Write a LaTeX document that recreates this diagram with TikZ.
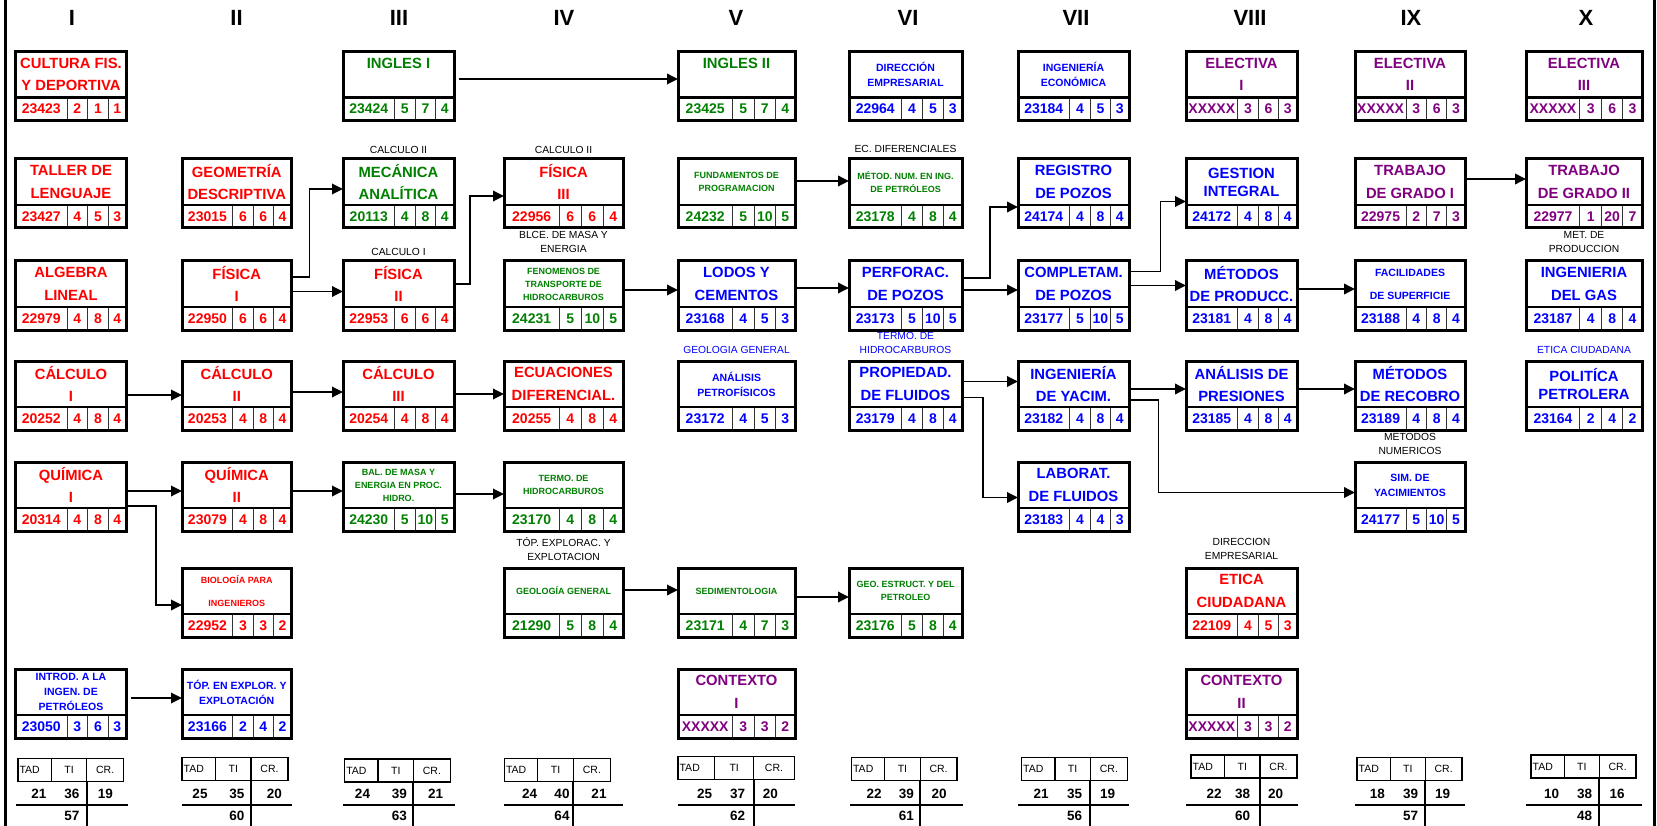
\documentclass[tikz,border=0pt]{standalone}
\usepackage{fontspec}
\setmainfont{Liberation Sans}
\usetikzlibrary{arrows.meta,calc}
\definecolor{cred}{RGB}{255,0,0}
\definecolor{cgreen}{RGB}{0,128,0}
\definecolor{cblue}{RGB}{0,0,255}
\definecolor{cpurple}{RGB}{128,0,128}
\def\splitnums#1/#2/#3/#4\relax{\def\nmA{#1}\def\nmB{#2}\def\nmC{#3}\def\nmD{#4}}
\def\splitxyz#1/#2/#3\relax{\def\pxA{#1}\def\pxB{#2}\def\pxC{#3}}
\tikzset{
  coursebox/.style={fill=white, minimum height=69pt, inner sep=0pt, outer sep=0pt},
  boxline/.style={line width=3pt},
  celldiv/.style={line width=1pt, black!80},
  rowdiv/.style={line width=2.5pt},
  tbig/.style={font=\bfseries\fontsize{14.8}{22.5}\selectfont, align=center, inner sep=0pt},
  tbigt/.style={font=\bfseries\fontsize{14.8}{18}\selectfont, align=center, inner sep=0pt},
  tmid/.style={font=\bfseries\fontsize{10.5}{15}\selectfont, align=center, inner sep=0pt},
  tmidw/.style={font=\bfseries\fontsize{10.5}{23}\selectfont, align=center, inner sep=0pt},
  tsmall/.style={font=\bfseries\fontsize{9}{13}\selectfont, align=center, inner sep=0pt},
  tsmallw/.style={font=\bfseries\fontsize{9}{23}\selectfont, align=center, inner sep=0pt},
  numtxt/.style={font=\bfseries\fontsize{14}{14}\selectfont, inner sep=0pt},
  note/.style={font=\fontsize{10.3}{14}\selectfont, align=center, inner sep=0pt},
  colhdr/.style={font=\bfseries\fontsize{22}{22}\selectfont, inner sep=0pt},
  arr/.style={line width=1.8pt, -{Triangle[length=11pt,width=10.5pt]}},
  hdrcell/.style={draw, line width=1.3pt, minimum height=23pt, inner sep=0pt, outer sep=0pt, font=\fontsize{10.5}{10.5}\selectfont},
  hdrtxt/.style={inner sep=0pt, font=\fontsize{10.5}{10.5}\selectfont},
  sumnum/.style={font=\bfseries\fontsize{13.5}{13.5}\selectfont, inner sep=0pt},
  sumline/.style={line width=2pt},
  frame/.style={line width=3pt}
}
\newcommand\course[8]{%
  \pgfmathsetmacro\cbW{#3-#2}%
  \pgfmathsetmacro\cbA{#2+0.465*\cbW}%
  \pgfmathsetmacro\cbB{#2+0.65*\cbW}%
  \pgfmathsetmacro\cbC{#2+0.835*\cbW}%
  \pgfmathsetmacro\cbM{(#2+#3)/2}%
  \pgfmathsetmacro\cbD{#4+46}%
  \pgfmathsetmacro\cbE{#4+69}%
  \pgfmathsetmacro\cbT{#4+23}%
  \pgfmathsetmacro\cbN{#4+57.5}%
  \pgfmathsetmacro\cbPa{(#2+\cbA)/2}%
  \pgfmathsetmacro\cbPb{(\cbA+\cbB)/2}%
  \pgfmathsetmacro\cbPc{(\cbB+\cbC)/2}%
  \pgfmathsetmacro\cbPd{(\cbC+#3)/2}%
  \splitnums#8\relax
  \node[coursebox, minimum width=\cbW pt, anchor=north west] (#1) at (#2,#4) {};
  \draw[celldiv] (\cbA,\cbD) -- (\cbA,\cbE) (\cbB,\cbD) -- (\cbB,\cbE) (\cbC,\cbD) -- (\cbC,\cbE);
  \draw[rowdiv] (#2,\cbD) -- (#3,\cbD);
  \draw[boxline] (#1.north west) rectangle (#1.south east);
  \node[#6, text=#5] (#1-t) at (\cbM,\cbT) {#7};
  \node[numtxt, text=#5] (#1-a) at (\cbPa,\cbN) {\nmA};
  \node[numtxt, text=#5] (#1-b) at (\cbPb,\cbN) {\nmB};
  \node[numtxt, text=#5] (#1-c) at (\cbPc,\cbN) {\nmC};
  \node[numtxt, text=#5] (#1-d) at (\cbPd,\cbN) {\nmD};
}
\newcommand\summary[8]{%
  \pgfmathsetmacro\smA{0.316*#5}%
  \pgfmathsetmacro\smB{0.335*#5}%
  \pgfmathsetmacro\smC{#5-\smA-\smB}%
  \splitxyz#7\relax
  \splitnums#8\relax
  \node[hdrcell, minimum width=\smA pt, anchor=north west] (#1-h1) at (#4,#6) {};
  \node[hdrtxt, anchor=west] (#1-h1t) at ($(#1-h1.west)+(1.5,0)$) {TAD};
  \node[hdrcell, minimum width=\smB pt, anchor=north west] (#1-h2) at (#1-h1.north east) {TI};
  \node[hdrcell, minimum width=\smC pt, anchor=north west] (#1-h3) at (#1-h2.north east) {CR.};
  \node[sumnum] (#1-v1) at (\pxA,794) {\nmA};
  \node[sumnum] (#1-v2) at (\pxB,794) {\nmB};
  \node[sumnum] (#1-v3) at (\pxC,794) {\nmC};
  \node[sumnum] (#1-v4) at (\pxB,816) {\nmD};
  \draw[sumline] (#2,805) -- (#3,805);
  \draw[sumline] (#1-h3.south west) -- (#1-h3.south west |- 0,826);
}
\begin{document}
\begin{tikzpicture}[x=1pt,y=-1pt]
\fill[white] (0,0) rectangle (1657,826);
\useasboundingbox (0,0) rectangle (1657,826);
% frame
\draw[frame] (5,0) -- (5,826);
\draw[frame] (1654.5,0) -- (1654.5,826);
% column headers
\node[colhdr] (hI) at (72,18) {I};
\node[colhdr] (hII) at (236.6,18) {II};
\node[colhdr] (hIII) at (399,18) {III};
\node[colhdr] (hIV) at (564,18) {IV};
\node[colhdr] (hV) at (736,18) {V};
\node[colhdr] (hVI) at (908,18) {VI};
\node[colhdr] (hVII) at (1076,18) {VII};
\node[colhdr] (hVIII) at (1250,18) {VIII};
\node[colhdr] (hIX) at (1411,18) {IX};
\node[colhdr] (hX) at (1586,18) {X};
% notes
\node[note] (n1) at (398.5,150) {CALCULO II};
\node[note] (n2) at (398.5,252) {CALCULO I};
\node[note] (n3) at (563.5,150) {CALCULO II};
\node[note] (n4) at (563.5,241.5) {BLCE. DE MASA Y\\ENERGIA};
\node[note] (n5) at (905.5,149) {EC. DIFERENCIALES};
\node[note] (n6) at (1584,242) {MET. DE\\PRODUCCION};
\node[note, text=cblue] (n7) at (736.5,350) {GEOLOGIA GENERAL};
\node[note, text=cblue] (n8) at (905.5,343) {TERMO. DE\\HIDROCARBUROS};
\node[note, text=cblue] (n9) at (1584,350) {ETICA CIUDADANA};
\node[note] (n10) at (1410,443.5) {METODOS\\NUMERICOS};
\node[note] (n11) at (563.5,549) {TÓP. EXPLORAC. Y\\EXPLOTACION};
\node[note] (n12) at (1241.5,549) {DIRECCION\\EMPRESARIAL};
% column I
\course{cult}{15.5}{126.5}{51.5}{cred}{tbig}{CULTURA FIS.\\Y DEPORTIVA}{23423/2/1/1}
\course{taller}{15.5}{126.5}{159}{cred}{tbig}{TALLER DE\\LENGUAJE}{23427/4/5/3}
\course{alg}{15.5}{126.5}{261}{cred}{tbig}{ALGEBRA\\LINEAL}{22979/4/8/4}
\course{calc1}{15.5}{126.5}{361}{cred}{tbig}{CÁLCULO\\I}{20252/4/8/4}
\course{quim1}{15.5}{126.5}{462}{cred}{tbig}{QUÍMICA\\I}{20314/4/8/4}
\course{intro}{15.5}{126.5}{669}{cblue}{tmid}{INTROD. A LA\\INGEN. DE\\PETRÓLEOS}{23050/3/6/3}
% column II
\course{geom}{182}{291.5}{159}{cred}{tbig}{GEOMETRÍA\\DESCRIPTIVA}{23015/6/6/4}
\course{fis1}{182}{291.5}{261}{cred}{tbig}{FÍSICA\\I}{22950/6/6/4}
\course{calc2}{182}{291.5}{361}{cred}{tbig}{CÁLCULO\\II}{20253/4/8/4}
\course{quim2}{182}{291.5}{462}{cred}{tbig}{QUÍMICA\\II}{23079/4/8/4}
\course{bio}{182}{291.5}{568}{cred}{tsmallw}{BIOLOGÍA PARA\\INGENIEROS}{22952/3/3/2}
\course{topo}{182}{291.5}{669}{cblue}{tmid}{TÓP. EN EXPLOR. Y\\EXPLOTACIÓN}{23166/2/4/2}
% column III
\course{ing1}{343}{454}{51.5}{cgreen}{tbig}{INGLES I\\\mbox{}}{23424/5/7/4}
\course{mec}{343}{454}{159}{cgreen}{tbig}{MECÁNICA\\ANALÍTICA}{20113/4/8/4}
\course{fis2}{343}{454}{261}{cred}{tbig}{FÍSICA\\II}{22953/6/6/4}
\course{calc3}{343}{454}{361}{cred}{tbig}{CÁLCULO\\III}{20254/4/8/4}
\course{bal}{343}{454}{462}{cgreen}{tsmall}{BAL. DE MASA Y\\ENERGIA EN PROC.\\HIDRO.}{24230/5/10/5}
% column IV
\course{fis3}{504}{623}{159}{cred}{tbig}{FÍSICA\\III}{22956/6/6/4}
\course{fen}{504}{623}{261}{cgreen}{tsmall}{FENOMENOS DE\\TRANSPORTE DE\\HIDROCARBUROS}{24231/5/10/5}
\course{ecu}{504}{623}{361}{cred}{tbig}{ECUACIONES\\DIFERENCIAL.}{20255/4/8/4}
\course{termo}{504}{623}{462}{cgreen}{tsmall}{TERMO. DE\\HIDROCARBUROS}{23170/4/8/4}
\course{geol}{504}{623}{568}{cgreen}{tsmall}{GEOLOGÍA GENERAL}{21290/5/8/4}
% column V
\course{ing2}{678}{795}{51.5}{cgreen}{tbig}{INGLES II\\\mbox{}}{23425/5/7/4}
\course{fund}{678}{795}{159}{cgreen}{tsmall}{FUNDAMENTOS DE\\PROGRAMACION}{24232/5/10/5}
\course{lodos}{678}{795}{261}{cblue}{tbig}{LODOS Y\\CEMENTOS}{23168/4/5/3}
\course{petro}{678}{795}{361}{cblue}{tmid}{ANÁLISIS\\PETROFÍSICOS}{23172/4/5/3}
\course{sedi}{678}{795}{568}{cgreen}{tsmall}{SEDIMENTOLOGIA}{23171/4/7/3}
\course{ctx1}{678}{795}{669}{cpurple}{tbig}{CONTEXTO\\I}{XXXXX/3/3/2}
% column VI
\course{dir}{849}{962}{51.5}{cblue}{tmid}{DIRECCIÓN\\EMPRESARIAL}{22964/4/5/3}
\course{metnum}{849}{962}{159}{cgreen}{tsmall}{MÉTOD. NUM. EN ING.\\DE PETRÓLEOS}{23178/4/8/4}
\course{perf}{849}{962}{261}{cblue}{tbig}{PERFORAC.\\DE POZOS}{23173/5/10/5}
\course{prop}{849}{962}{361}{cblue}{tbig}{PROPIEDAD.\\DE FLUIDOS}{23179/4/8/4}
\course{geoest}{849}{962}{568}{cgreen}{tsmall}{GEO. ESTRUCT. Y DEL\\PETROLEO}{23176/5/8/4}
% column VII
\course{ingeco}{1018}{1129}{51.5}{cblue}{tmid}{INGENIERÍA\\ECONÓMICA}{23184/4/5/3}
\course{reg}{1018}{1129}{159}{cblue}{tbig}{REGISTRO\\DE POZOS}{24174/4/8/4}
\course{compl}{1018}{1129}{261}{cblue}{tbig}{COMPLETAM.\\DE POZOS}{23177/5/10/5}
\course{yac}{1018}{1129}{361}{cblue}{tbig}{INGENIERÍA\\DE YACIM.}{23182/4/8/4}
\course{lab}{1018}{1129}{462}{cblue}{tbig}{LABORAT.\\DE FLUIDOS}{23183/4/4/3}
% column VIII
\course{el1}{1186}{1297}{51.5}{cpurple}{tbig}{ELECTIVA\\I}{XXXXX/3/6/3}
\course{gest}{1186}{1297}{159}{cblue}{tbigt}{GESTION\\INTEGRAL}{24172/4/8/4}
\course{metprod}{1186}{1297}{261}{cblue}{tbig}{MÉTODOS\\DE PRODUCC.}{23181/4/8/4}
\course{pres}{1186}{1297}{361}{cblue}{tbig}{ANÁLISIS DE\\PRESIONES}{23185/4/8/4}
\course{etica}{1186}{1297}{568}{cred}{tbig}{ETICA\\CIUDADANA}{22109/4/5/3}
\course{ctx2}{1186}{1297}{669}{cpurple}{tbig}{CONTEXTO\\II}{XXXXX/3/3/2}
% column IX
\course{el2}{1355}{1465}{51.5}{cpurple}{tbig}{ELECTIVA\\II}{XXXXX/3/6/3}
\course{tg1}{1355}{1465}{159}{cpurple}{tbig}{TRABAJO\\DE GRADO I}{22975/2/7/3}
\course{facil}{1355}{1465}{261}{cblue}{tmidw}{FACILIDADES\\DE SUPERFICIE}{23188/4/8/4}
\course{recob}{1355}{1465}{361}{cblue}{tbig}{MÉTODOS\\DE RECOBRO}{23189/4/8/4}
\course{sim}{1355}{1465}{462}{cblue}{tmid}{SIM. DE\\YACIMIENTOS}{24177/5/10/5}
% column X
\course{el3}{1526}{1642}{51.5}{cpurple}{tbig}{ELECTIVA\\III}{XXXXX/3/6/3}
\course{tg2}{1526}{1642}{159}{cpurple}{tbig}{TRABAJO\\DE GRADO II}{22977/1/20/7}
\course{gas}{1526}{1642}{261}{cblue}{tbig}{INGENIERIA\\DEL GAS}{23187/4/8/4}
\course{pol}{1526}{1642}{361}{cblue}{tbigt}{POLITÍCA\\PETROLERA}{23164/2/4/2}
% connectors
\draw[arr] ($(ing1.east |- 0,79)+(5,0)$) -- (ing2.west |- 0,79);
\draw[arr] (fis1.east |- 0,277) -- ++(18,0) |- (mec.west |- 0,189);
\draw[arr] (fis1.east |- 0,291.5) -- (fis2.west |- 0,291.5);
\draw[arr] (fis2.east |- 0,284) -- ++(16,0) |- (fis3.west |- 0,196);
\draw[arr] (calc1.east |- 0,395) -- (calc2.west |- 0,395);
\draw[arr] (calc2.east |- 0,392) -- (calc3.west |- 0,392);
\draw[arr] (calc3.east |- 0,394) -- (ecu.west |- 0,394);
\draw[arr] (quim1.east |- 0,491) -- (quim2.west |- 0,491);
\draw[arr] (quim2.east |- 0,491) -- (bal.west |- 0,491);
\draw[arr] (bal.east |- 0,494) -- (termo.west |- 0,494);
\draw[arr] (quim1.east |- 0,506) -- ++(29.5,0) |- (bio.west |- 0,605);
\draw[arr] ($(intro.east |- 0,698)+(4.5,0)$) -- (topo.west |- 0,698);
\draw[arr] (geol.east |- 0,590) -- (sedi.west |- 0,590);
\draw[arr] (sedi.east |- 0,597) -- (geoest.west |- 0,597);
\draw[arr] (fen.east |- 0,290) -- (lodos.west |- 0,290);
\draw[arr] (lodos.east |- 0,288) -- (perf.west |- 0,288);
\draw[arr] (perf.east |- 0,290) -- (compl.west |- 0,290);
\draw[arr] (perf.east |- 0,278) -- ++(28,0) |- (reg.west |- 0,207);
\draw[arr] (fund.east |- 0,181) -- (metnum.west |- 0,181);
\draw[arr] (prop.east |- 0,381.5) -- (yac.west |- 0,381.5);
\draw[arr] (prop.east |- 0,397.5) -- ++(21,0) |- (lab.west |- 0,497.5);
\draw[arr] (compl.east |- 0,271.5) -- ++(31.5,0) |- (gest.west |- 0,201.5);
\draw[arr] (compl.east |- 0,285.5) -- (metprod.west |- 0,285.5);
\draw[arr] (metprod.east |- 0,289) -- (facil.west |- 0,289);
\draw[arr] (yac.east |- 0,389) -- (pres.west |- 0,389);
\draw[arr] (yac.east |- 0,400) -- ++(29.5,0) |- (sim.west |- 0,492.5);
\draw[arr] (pres.east |- 0,389) -- (recob.west |- 0,389);
\draw[arr] (tg1.east |- 0,179) -- (tg2.west |- 0,179);
% summaries
\summary{sI}{15.5}{127.5}{17.9}{105.7}{758.7}{39/72/105.4}{21/36/19/57}
\summary{sII}{182}{292}{182}{106}{757.7}{200/236.8/274.3}{25/35/20/60}
\summary{sIII}{343}{454.6}{344.6}{105.8}{759}{362.5/399.3/435.7}{24/39/21/63}
\summary{sIV}{504}{623}{504.3}{106.1}{758.3}{529.6/562/599}{24/40/21/64}
\summary{sV}{678}{795}{677.9}{116.4}{756.7}{704.6/737.5/770.4}{25/37/20/62}
\summary{sVI}{850}{962.5}{851.4}{105.6}{757.7}{874/906.4/939}{22/39/20/61}
\summary{sVII}{1018}{1129}{1021.4}{106}{757.7}{1041/1074.6/1107.7}{21/35/19/56}
\summary{sVIII}{1186}{1297.7}{1191}{106}{755}{1214/1242.7/1275.6}{22/38/20/60}
\summary{sIX}{1355}{1465}{1357}{105}{757.7}{1377.4/1410.6/1442.7}{18/39/19/57}
\summary{sX}{1525.6}{1641.6}{1531}{105}{755}{1551.6/1584.5/1617}{10/38/16/48}
\end{tikzpicture}
\end{document}
